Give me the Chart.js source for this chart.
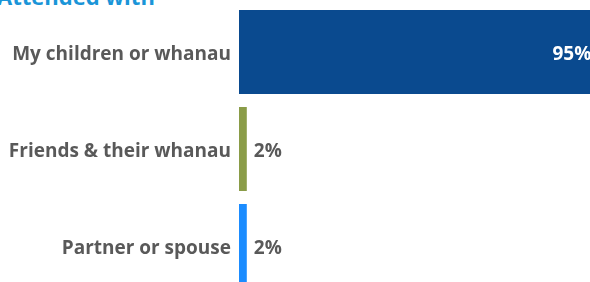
<!DOCTYPE html>
<html><head><meta charset="utf-8">
<script src="https://cdn.jsdelivr.net/npm/chart.js@4/dist/chart.umd.min.js"></script>
<style>
html,body{margin:0;padding:0;background:#fff;overflow:hidden;width:590px;height:282px;}
#wrap{position:relative;width:590px;height:282px;overflow:hidden;}
#title{position:absolute;left:-3px;top:-19px;font:bold 22px "Open Sans",sans-serif;color:#1a95d8;white-space:nowrap;}
#cwrap{position:absolute;left:0;top:0;width:640px;height:295px;}
</style></head><body>
<div id="wrap">
<div id="title">Attended with</div>
<div id="cwrap"><canvas id="c" width="640" height="295"></canvas></div>
</div>
<script>
const categories = ["My children or whanau", "Friends & their whanau", "Partner or spouse"];
const values = [95, 2, 2];
const colors = ["#0a4a8f", "#8a9c48", "#1b8cff"];
const valueLabels = ["95%", "2%", "2%"];

const labelPlugin = {
  id: 'vlabels',
  afterDatasetsDraw(chart) {
    const ctx = chart.ctx;
    const meta = chart.getDatasetMeta(0);
    ctx.save();
    ctx.font = 'bold 19px "Open Sans", sans-serif';
    ctx.textBaseline = 'middle';
    meta.data.forEach((bar, i) => {
      if (values[i] > 50) {
        ctx.fillStyle = '#ffffff';
        ctx.textAlign = 'left';
        ctx.fillText(valueLabels[i], bar.x - 57, bar.y + 3);
      } else {
        ctx.fillStyle = '#595959';
        ctx.textAlign = 'left';
        ctx.fillText(valueLabels[i], bar.x + 7, bar.y + 3);
      }
    });
    ctx.restore();
  }
};

new Chart(document.getElementById('c'), {
  type: 'bar',
  data: {
    labels: categories,
    datasets: [{ data: values, backgroundColor: colors, borderWidth: 0, barPercentage: 0.866, categoryPercentage: 1 }]
  },
  options: {
    indexAxis: 'y',
    responsive: false,
    animation: false,
    layout: { padding: { top: 3.5, bottom: 0.5, right: 11, left: 0 } },
    plugins: { legend: { display: false }, tooltip: { enabled: false } },
    scales: {
      x: { min: 0, max: 100, display: false },
      y: {
        afterFit(axis) { axis.width = 239; axis.paddingTop = 0; axis.paddingBottom = 0; },
        grid: { display: false, drawTicks: false },
        border: { display: false },
        ticks: { color: '#595959', font: { family: '"Open Sans", sans-serif', weight: 'bold', size: 19 }, padding: 8, labelOffset: 3 }
      }
    }
  },
  plugins: [labelPlugin]
});
</script>
</body></html>
